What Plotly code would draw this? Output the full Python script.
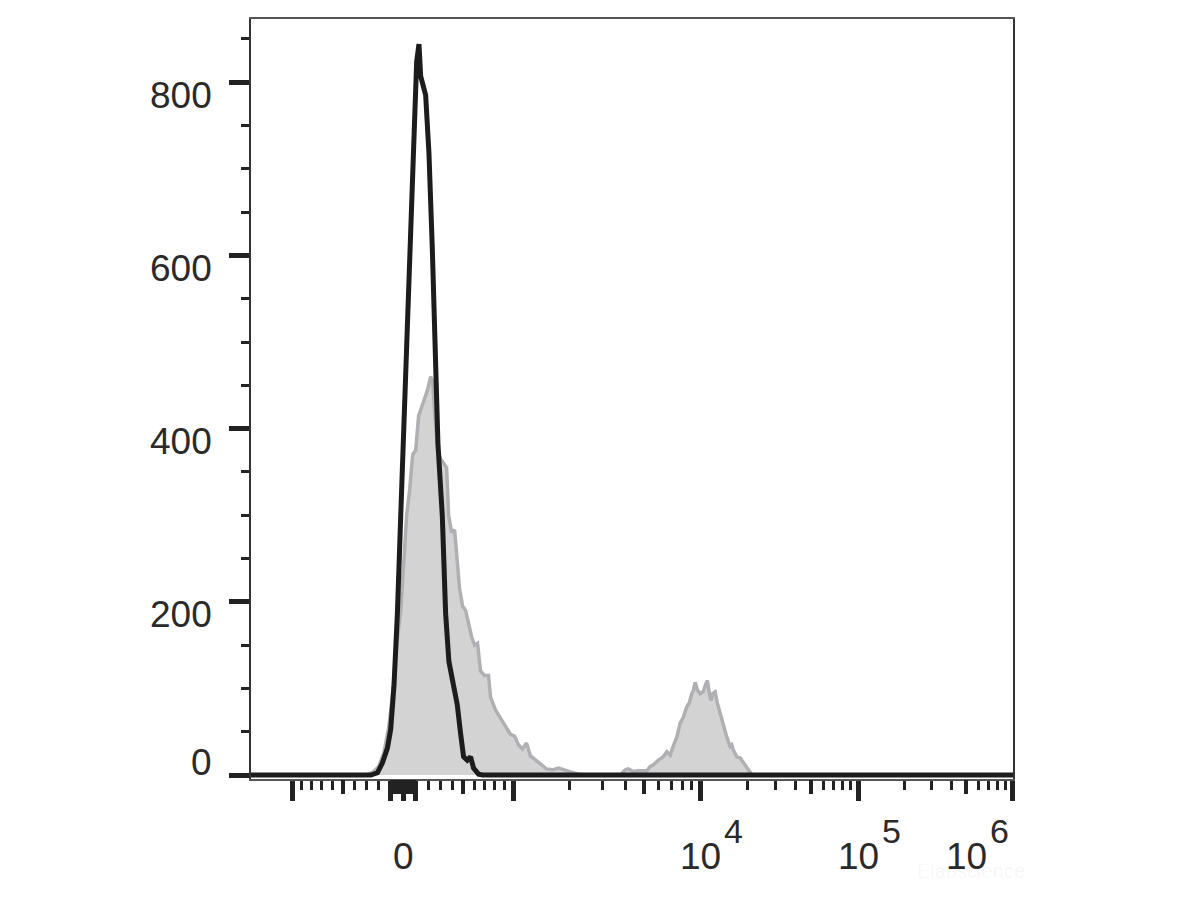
import numpy as np
import plotly.graph_objects as go

# ---------------- data (x in display channels across the biexponential axis, y = count) -------------
gray_x = [0, 115, 122, 128, 133, 138, 142, 146, 150, 153, 156, 159, 162, 165, 168, 171, 174, 177, 180,
          182, 184, 187, 190, 193, 196, 198, 201, 204, 206, 209, 212, 215, 218, 221, 224, 227, 230, 234,
          238, 240, 245, 250, 255, 260, 264, 268, 272, 276, 280, 285, 290, 296, 302, 308, 315, 322, 328,
          335, 370, 375, 378, 383, 388, 396.7, 400, 403, 408, 413, 416.7, 420, 423, 426.7, 430, 433,
          436.7, 439, 441.7, 443.3, 445, 447.3, 450, 453, 456, 457.3, 459.3, 461, 462.7, 465, 467.3,
          470, 473, 476.7, 480, 481.7, 483.3, 486.7, 490, 493.3, 496.7, 499.3, 502, 763.5]
gray_y = [0, 0, 3, 10, 25, 55, 95, 150, 190, 245, 300, 330, 370, 375, 415, 425, 435, 445, 460,
          455, 420, 375, 365, 360, 355, 300, 280, 283, 250, 215, 195, 190, 175, 160, 150, 152, 120, 115,
          115, 90, 75, 65, 55, 47, 45, 35, 30, 37, 22, 18, 13, 7, 6, 8, 6, 3, 1,
          0, 0, 6, 7, 4, 5, 5, 10, 11.5, 17, 21, 27, 23, 33, 44, 60, 66,
          79, 83, 94, 98, 107, 98, 94, 96, 106, 109, 94, 86, 94, 96, 83,
          71, 60, 44, 33, 35, 29, 21, 20, 14, 8, 4, 0, 0]

black_x = [0, 120, 126.7, 131.7, 136.7, 140, 143.3, 146.7, 150, 153.3, 156.7, 160, 163.3, 166, 168.3,
           170, 175, 178.3, 181.7, 185, 187.3, 191.7, 193.3, 195, 198.3, 201.7, 203, 206.7, 210, 213,
           216.7, 220, 223, 228, 232, 763.5]
black_y = [0, 0, 2.6, 14, 31, 53, 104, 187, 299, 411, 523, 634, 746, 824, 844,
           807, 785, 718, 607, 494, 383, 299, 247, 187, 131, 109, 108, 81, 48, 21,
           17, 21, 8, 1, 0, 0]

y_major = [0, 200, 400, 600, 800]
y_labels = ["0", "200", "400", "600", "800"]

x_long = [-1000, -100, 0, 100, 1000, 1e4, 1e5, 1e6]
x_medium = [-500, 500, 5e3, 5e4, 5e5] + [s * m for s in (-1, 1) for m in range(10, 100, 10)]
x_short = ([s * m for s in (-1, 1) for m in (200, 300, 400, 600, 700, 800, 900)]
           + [m * 10 ** k for k in (3, 4, 5) for m in (2, 3, 4, 6, 7, 8, 9)])
x_label_vals = [0, 1e4, 1e5, 1e6]
x_label_base = ["0", "10", "10", "10"]
x_label_exp = ["", "4", "5", "6"]

# ---------------- biexponential display scale (intensity -> display channel) ----------------
ZERO_CH = 152.5
LIN_HALF = 110.5
DECADE_CH = {3: 263.0, 4: 450.0, 5: 608.3, 6: 763.3}
X_RANGE = [0, 763.5]


def biex(v):
    v = float(v)
    if abs(v) <= 1000:
        return ZERO_CH + np.sign(v) * LIN_HALF * np.arcsinh(abs(v) / 1000) / np.arcsinh(1)
    k = int(np.floor(np.log10(v) + 1e-9))
    if k >= 6:
        return DECADE_CH[6]
    lo, hi = DECADE_CH[k], DECADE_CH[k + 1]
    return lo + (hi - lo) * (np.log10(v) - k)


INK = "#222222"
TXT = "#2a2a2a"
FONT = "Liberation Sans, Arial, sans-serif"

fig = go.Figure()
fig.add_trace(go.Scatter(x=gray_x, y=gray_y, mode="lines", fill="tozeroy",
                         fillcolor="#d3d3d3", line=dict(color="#b0b0b4", width=3.5),
                         showlegend=False, hoverinfo="skip"))
fig.add_trace(go.Scatter(x=black_x, y=black_y, mode="lines",
                         line=dict(color="#1c1c1c", width=5),
                         showlegend=False, hoverinfo="skip"))
# empty trace on the overlay axis that carries the medium ticks
fig.add_trace(go.Scatter(x=[], y=[], xaxis="x2", yaxis="y", showlegend=False))

fig.update_layout(
    width=1200, height=901,
    margin=dict(l=243, r=195, t=9, b=130),
    paper_bgcolor="white", plot_bgcolor="white",
    showlegend=False,
    xaxis=dict(
        range=X_RANGE, showgrid=False, zeroline=False,
        showline=True, linecolor="#555555", linewidth=2, mirror=True,
        tickmode="array", tickvals=[biex(v) for v in x_long],
        ticks="outside", ticklen=20, tickwidth=5, tickcolor=INK,
        showticklabels=False,
        minor=dict(tickmode="array", tickvals=[biex(v) for v in x_short],
                   ticks="outside", ticklen=9, tickwidth=3, tickcolor=INK, showgrid=False),
    ),
    xaxis2=dict(
        overlaying="x", anchor="y", side="bottom", range=X_RANGE,
        showgrid=False, zeroline=False, showline=False,
        tickmode="array", tickvals=[biex(v) for v in x_medium],
        ticks="outside", ticklen=14, tickwidth=4, tickcolor=INK,
        showticklabels=False,
    ),
    yaxis=dict(
        range=[-4.6, 873], showgrid=False, zeroline=False,
        showline=True, linecolor="#333333", linewidth=2, mirror=True,
        tickmode="array", tickvals=y_major,
        ticks="outside", ticklen=20, tickwidth=5, tickcolor=INK,
        showticklabels=False,
        minor=dict(dtick=50, tick0=0, ticks="outside", ticklen=8, tickwidth=3,
                   tickcolor=INK, showgrid=False),
    ),
)

# y tick labels (drawn slightly offset from their ticks, as in the source figure)
for v, t in zip(y_major, y_labels):
    fig.add_annotation(x=0, xref="paper", y=v, yref="y", text=t, showarrow=False,
                       xanchor="right", yanchor="middle", xshift=-37,
                       yshift=13 if v == 0 else -13,
                       font=dict(family=FONT, size=37, color=TXT))

# x tick labels: base number centred under the tick, exponent raised to its right
for v, base, ex in zip(x_label_vals, x_label_base, x_label_exp):
    last = v == x_label_vals[-1]
    shift = -46 if last else 0
    fig.add_annotation(x=biex(v), xref="x", y=0, yref="paper", text=base, showarrow=False,
                       xanchor="center", yanchor="middle", xshift=shift, yshift=-77,
                       font=dict(family=FONT, size=37, color=TXT))
    if ex:
        fig.add_annotation(x=biex(v), xref="x", y=0, yref="paper", text=ex, showarrow=False,
                           xanchor="center", yanchor="middle", xshift=shift + 33, yshift=-52,
                           font=dict(family=FONT, size=34, color=TXT))

# faint watermark
fig.add_annotation(x=1, xref="paper", y=0, yref="paper", text="Elabscience", showarrow=False,
                   xanchor="right", yanchor="middle", xshift=14, yshift=-92,
                   font=dict(family=FONT, size=20, color="rgba(0,0,0,0.05)"))

fig.write_html("out.html")
